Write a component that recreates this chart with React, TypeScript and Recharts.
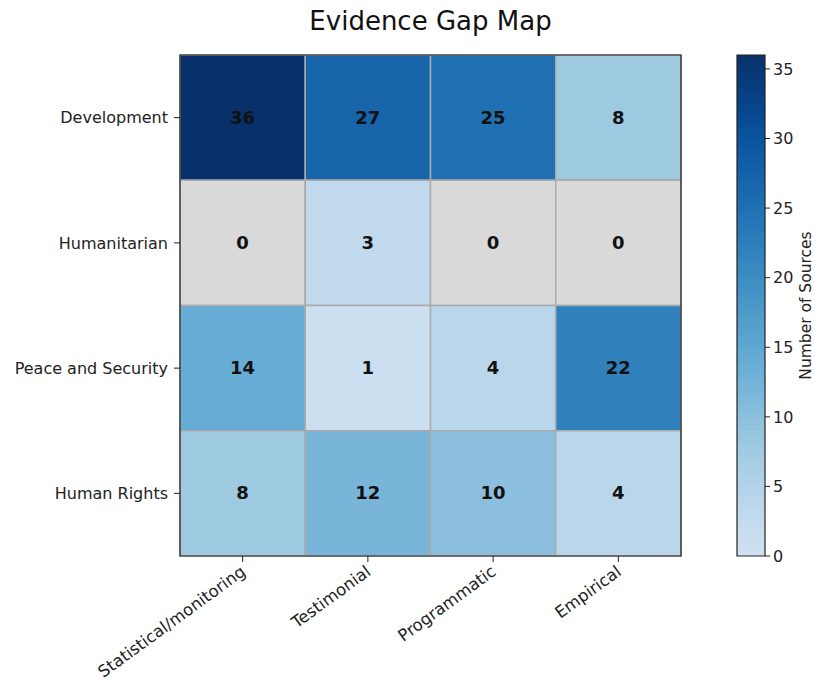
import React from "react"
import { ScatterChart, Scatter, XAxis, YAxis, ReferenceArea } from "recharts"

const rows = ["Development", "Humanitarian", "Peace and Security", "Human Rights"]
const columns = ["Statistical/monitoring", "Testimonial", "Programmatic", "Empirical"]
const development = [36, 27, 25, 8]
const humanitarian = [0, 3, 0, 0]
const peaceSecurity = [14, 1, 4, 22]
const humanRights = [8, 12, 10, 4]
const colorbarTicks = [0, 5, 10, 15, 20, 25, 30, 35]

const matrix = [development, humanitarian, peaceSecurity, humanRights]
const vmax = 36
const FONT = "DejaVu Sans, sans-serif"

// matplotlib Blues anchors
const blues = ["#f7fbff", "#deebf7", "#c6dbef", "#9ecae1", "#6baed6", "#4292c6", "#2171b5", "#08519c", "#08306b"]

function hex(c: string) {
  return [1, 3, 5].map((i) => parseInt(c.slice(i, i + 2), 16))
}

function blueAt(t: number) {
  const p = Math.min(Math.max(t, 0), 1) * (blues.length - 1)
  const i = Math.min(Math.floor(p), blues.length - 2)
  const f = p - i
  const a = hex(blues[i])
  const b = hex(blues[i + 1])
  const m = a.map((v, k) => Math.round(v + (b[k] - v) * f))
  return `rgb(${m[0]},${m[1]},${m[2]})`
}

// colormap truncated to start at 0.2
const colorFor = (v: number) => blueAt(0.2 + 0.8 * (v / vmax))

const cells = matrix.flatMap((vals, r) => vals.map((value, c) => ({ x: c, y: r, value })))
const cbarPoints = colorbarTicks.map((y) => ({ x: 0.5, y }))

function XTick(props: any) {
  const { x, y, payload } = props
  return (
    <g>
      <line x1={x} x2={x} y1={y - 8} y2={y - 2} stroke="#222" />
      <text
        x={x + 4}
        y={y + 10}
        transform={`rotate(-36, ${x + 4}, ${y + 10})`}
        textAnchor="end"
        fontSize={16.5}
        fontFamily={FONT}
        fill="#222"
      >
        {columns[payload.value]}
      </text>
    </g>
  )
}

function ValueLabel(props: any) {
  const { cx, cy, payload } = props
  return (
    <text x={cx} y={cy} dy={6} textAnchor="middle" fontSize={18} fontWeight="bold" fontFamily={FONT} fill="#111">
      {payload.value}
    </text>
  )
}

function CbarLabel(props: any) {
  const { viewBox } = props
  const x = 111
  const y = viewBox.y + viewBox.height / 2
  return (
    <text x={x} y={y} transform={`rotate(-90, ${x}, ${y})`} textAnchor="middle" fontSize={15.5} fontFamily={FONT} fill="#222">
      Number of Sources
    </text>
  )
}

const gradientStops = Array.from({ length: 19 }, (_, i) => i / 18)

export default function App() {
  return (
    <div style={{ position: "absolute", left: 0, top: 0, width: 815, height: 681, background: "#fff", fontFamily: FONT }}>
      <div style={{ position: "absolute", left: 180, top: 8, width: 501, textAlign: "center", fontSize: 26, lineHeight: 1, color: "#111" }}>
        Evidence Gap Map
      </div>
      <div style={{ position: "absolute", left: 0, top: 0 }}>
        <ScatterChart width={700} height={681} margin={{ top: 55, right: 19, bottom: 5, left: 10 }}>
          <XAxis
            type="number"
            dataKey="x"
            domain={[-0.5, 3.5]}
            ticks={[0, 1, 2, 3]}
            height={120}
            axisLine={false}
            tickLine={false}
            tick={<XTick />}
            allowDataOverflow
          />
          <YAxis
            type="number"
            dataKey="y"
            domain={[-0.5, 3.5]}
            ticks={[0, 1, 2, 3]}
            reversed
            width={170}
            axisLine={false}
            tickSize={6}
            tickMargin={6}
            tickLine={{ stroke: "#222" }}
            tickFormatter={(i: number) => rows[i]}
            tick={{ fontSize: 16, fill: "#222", fontFamily: FONT }}
            allowDataOverflow
          />
          {cells.map((d) => (
            <ReferenceArea
              key={`${d.x}-${d.y}`}
              x1={d.x - 0.5}
              x2={d.x + 0.5}
              y1={d.y - 0.5}
              y2={d.y + 0.5}
              fill={d.value === 0 ? "#d9d9d9" : colorFor(d.value)}
              fillOpacity={1}
              stroke="#aaaaaa"
              strokeWidth={1.5}
            />
          ))}
          <ReferenceArea x1={-0.5} x2={3.5} y1={-0.5} y2={3.5} fill="none" stroke="#222" strokeWidth={1.2} />
          <Scatter data={cells} isAnimationActive={false} shape={<ValueLabel />} />
        </ScatterChart>
      </div>
      <div style={{ position: "absolute", left: 700, top: 0 }}>
        <ScatterChart width={115} height={681} margin={{ top: 55, right: 0, bottom: 125, left: 37 }}>
          <defs>
            <linearGradient id="cbar" x1="0" y1="1" x2="0" y2="0">
              {gradientStops.map((t) => (
                <stop key={t} offset={t} stopColor={colorFor(t * vmax)} />
              ))}
            </linearGradient>
          </defs>
          <XAxis type="number" dataKey="x" domain={[0, 1]} hide />
          <YAxis
            type="number"
            dataKey="y"
            orientation="right"
            domain={[0, vmax]}
            ticks={colorbarTicks}
            width={50}
            axisLine={false}
            tickSize={5}
            tickMargin={3}
            tickLine={{ stroke: "#222" }}
            tick={{ fontSize: 16, fill: "#222", fontFamily: FONT }}
            label={<CbarLabel />}
          />
          <ReferenceArea x1={0} x2={1} y1={0} y2={vmax} fill="url(#cbar)" fillOpacity={1} stroke="#222" strokeWidth={1.2} />
          <Scatter data={cbarPoints} isAnimationActive={false} shape={() => <g />} />
        </ScatterChart>
      </div>
    </div>
  )
}
